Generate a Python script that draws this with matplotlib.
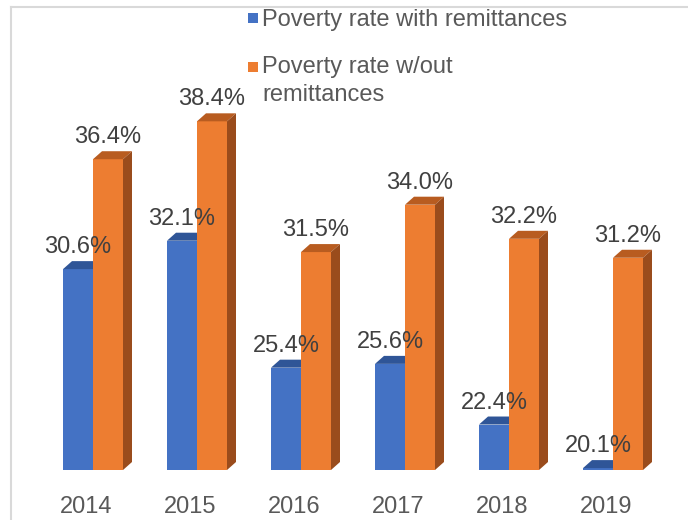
import matplotlib.pyplot as plt
from matplotlib.patches import Polygon, Rectangle
from matplotlib.lines import Line2D
import numpy as np

plt.rcParams['font.family'] = ['Liberation Sans', 'DejaVu Sans']

years = ["2014", "2015", "2016", "2017", "2018", "2019"]
with_rem = [30.6, 32.1, 25.4, 25.6, 22.4, 20.1]
without_rem = [36.4, 38.4, 31.5, 34.0, 32.2, 31.2]
series_names = ["Poverty rate with remittances", "Poverty rate w/out\nremittances"]

# colores: frente, tapa, lado
blue = ("#4472C4", "#2F5597", "#2F5597")
orange = ("#ED7D31", "#B85C20", "#9A4C1C")

fig = plt.figure(figsize=(6.88, 5.20), dpi=100)
W, H = 688, 520
ax = fig.add_axes([40 / W, 50 / H, 640 / W, 448 / H])

px_x = 1 / 104.0   # unidades x por pixel
px_y = 1 / 18.95   # unidades y por pixel
base = 20.0
ax.set_xlim(-53 * px_x, 587 * px_x)
ax.set_ylim(base, base + 448 * px_y)

bw = 30 * px_x
ddx, ddy = 9 * px_x, 8 * px_y


def bar3d(x0, h, cols):
    x1 = x0 + bw
    ax.add_patch(Rectangle((x0, base), bw, h - base, fc=cols[0], ec="none", zorder=2))
    ax.add_patch(Polygon([(x0, h), (x1, h), (x1 + ddx, h + ddy), (x0 + ddx, h + ddy)],
                         fc=cols[1], ec="none", zorder=2))
    ax.add_patch(Polygon([(x1, base), (x1, h), (x1 + ddx, h + ddy), (x1 + ddx, base + ddy)],
                         fc=cols[2], ec="none", zorder=2))


x = np.arange(len(years))
for i in x:
    bar3d(i - bw, with_rem[i], blue)
    bar3d(i, without_rem[i], orange)
    ax.text(i - bw / 2, with_rem[i] + 11 * px_y, f"{with_rem[i]:.1f}%", ha="center",
            va="bottom", fontsize=17, color="#404040", zorder=3)
    ax.text(i + bw / 2, without_rem[i] + 11 * px_y, f"{without_rem[i]:.1f}%", ha="center",
            va="bottom", fontsize=17, color="#404040", zorder=3)

ax.set_xticks(x - 0.07)
ax.set_xticklabels(years, fontsize=17, color="#595959")
ax.tick_params(axis="x", length=0, pad=19)
ax.set_yticks([])
for s in ax.spines.values():
    s.set_visible(False)

# leyenda manual
fig.patches.append(Rectangle((248 / W, 1 - 23 / H), 10 / W, 10 / H, fc=blue[0],
                             transform=fig.transFigure, figure=fig))
fig.text(262 / W, 1 - 20 / H, series_names[0], fontsize=17, color="#595959", va="center")
fig.patches.append(Rectangle((248 / W, 1 - 72 / H), 10 / W, 10 / H, fc=orange[0],
                             transform=fig.transFigure, figure=fig))
fig.text(262 / W, 1 - 56 / H, series_names[1], fontsize=17, color="#595959", va="top",
         linespacing=1.35)

# marco gris
fig.add_artist(Line2D([11 / W, 11 / W], [0, 1 - 7 / H], color="#D9D9D9", lw=1.5))
fig.add_artist(Line2D([11 / W, 1], [1 - 7 / H, 1 - 7 / H], color="#D9D9D9", lw=1.5))

fig.savefig("out.png", dpi=100)
